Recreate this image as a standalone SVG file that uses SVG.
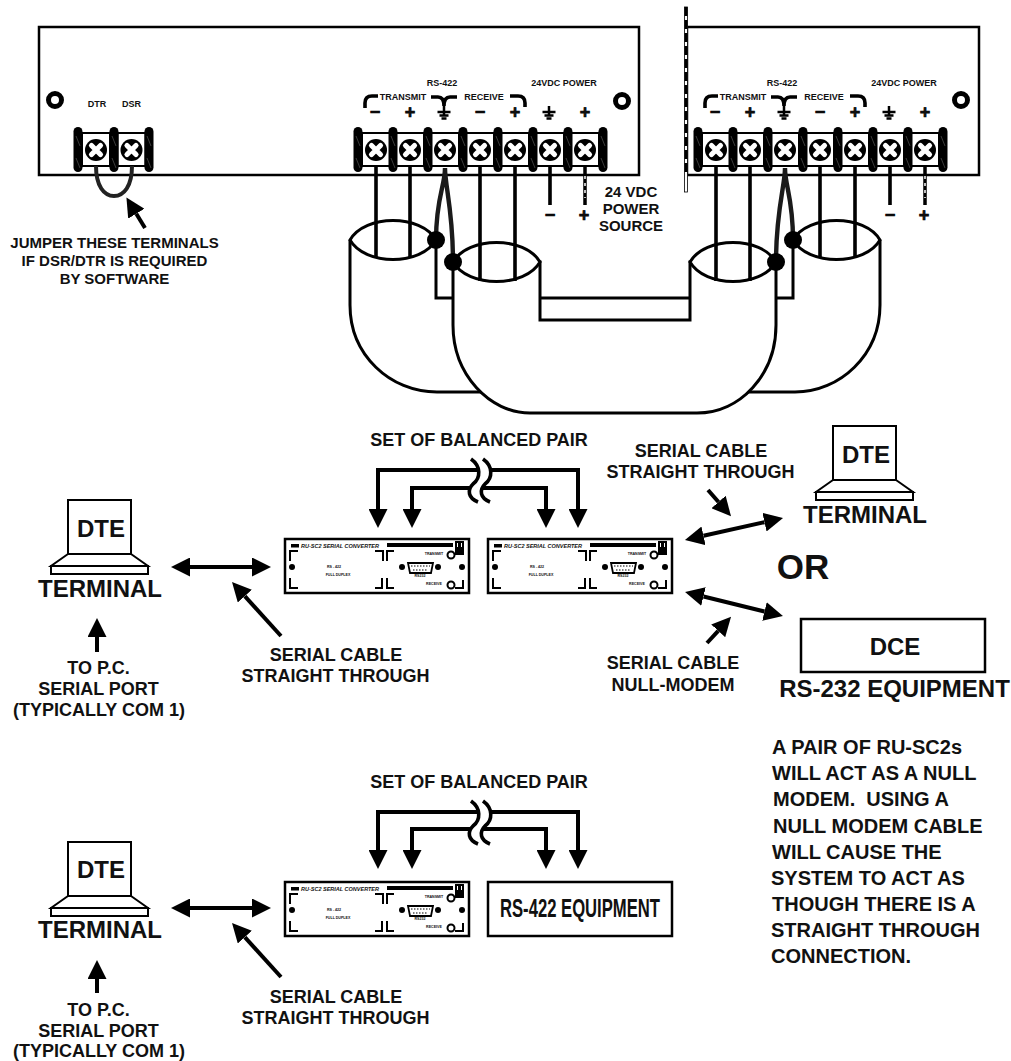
<svg xmlns="http://www.w3.org/2000/svg" xmlns:xlink="http://www.w3.org/1999/xlink" width="1011" height="1061" viewBox="0 0 1011 1061">
<style>
text{font-family:"Liberation Sans",Arial,sans-serif;font-weight:bold;fill:#111;text-anchor:middle;white-space:pre}
.t24{font-size:24px}.t18{font-size:18px}.t15{font-size:15px}.t20{font-size:20px;text-anchor:start}.t9{font-size:9px}.t17{font-size:18px;stroke:#000;stroke-width:.7}
.ln{fill:none;stroke:#000;stroke-width:2.5}
.w{fill:none;stroke:#000;stroke-width:3.600}
.tw{fill:none;stroke:#1a1a1a;stroke-width:4.400}
.ar{fill:none;stroke:#000;stroke-width:4;marker-end:url(#ah)}
.dbl{fill:none;stroke:#000;stroke-width:4;marker-end:url(#ah);marker-start:url(#ah)}
.lens{fill:#fff;stroke:#000;stroke-width:3}
.cab{fill:none;stroke:#000;stroke-width:3}
.tiny{font-size:3.600px}
.brk{fill:none;stroke:#000;stroke-width:2}
</style>
<defs>
<marker id="ah" markerUnits="userSpaceOnUse" markerWidth="19" markerHeight="19" refX="0" refY="9.5" orient="auto-start-reverse"><path d="M0,0L19,9.500L0,19Z" fill="#000"/></marker>
<g id="barrier"><rect x="-4.500" y="127" width="9" height="45" rx="4.500" fill="#000"/><path d="M-2,136L2,146M-2,158L2,168" stroke="#999" stroke-width=".4"/></g>
<g id="screw"><rect x="-14" y="133" width="28" height="33" fill="#fff" stroke="#000" stroke-width="2"/><circle cy="150" r="11" fill="#000"/><path d="M-4.500,145.500L4.500,154.500M4.500,145.500L-4.500,154.500" stroke="#fff" stroke-width="5.200" stroke-linecap="round"/></g>
<g id="hole"><circle r="6.500" fill="#fff" stroke="#000" stroke-width="5"/></g>
<g id="gnd"><path d="M0,-6V3M-6.500,0H6.500M-4.500,3.500H4.500M-2.500,6.500H2.500" stroke="#000" stroke-width="2.500" fill="none"/></g>
<g id="pc"><rect x="68" y="500" width="63" height="54" fill="#fff" stroke="#000" stroke-width="2"/><path d="M68,554L51,566H148L131,554" fill="none" stroke="#000" stroke-width="2"/><rect x="51" y="566" width="97" height="8" fill="#fff" stroke="#000" stroke-width="2"/></g>
<g id="conv">
<rect width="184" height="54" fill="#fff" stroke="#000" stroke-width="2.500"/>
<rect x="6" y="5" width="8" height="3.500" fill="#000"/>
<text x="16" y="8.500" font-size="5.500" font-style="italic" textLength="78" lengthAdjust="spacingAndGlyphs" style="text-anchor:start">RU-SC2 SERIAL CONVERTER</text>
<rect x="102" y="4" width="66" height="4" fill="#000"/>
<rect x="170" y="2" width="9" height="14" fill="#000"/><path d="M172.500,4V8M176.500,4V8" stroke="#fff" stroke-width="1"/>
<path class="brk" d="M5,22V12H13M5,39V49H13M90,12H98V22M102,22V12H109M90,49H97V39M102,39V49H109M170,49H178V41"/>
<circle cx="7" cy="28" r="3"/><circle cx="117" cy="28" r="3"/><circle cx="153" cy="28" r="3"/><circle cx="177" cy="28" r="3"/>
<path d="M123,24H148L146,34H125Z" fill="#fff" stroke="#000" stroke-width="1.800"/>
<path d="M126,27H145M128,31H143" stroke="#000" stroke-width="1.200" stroke-dasharray="1.500 1.500"/>
<text class="tiny" x="135" y="38">RS232</text>
<text class="tiny" x="49" y="29">RS - 422</text>
<text class="tiny" x="53" y="37">FULL DUPLEX</text>
<text class="tiny" x="149" y="16">TRANSMIT</text>
<text class="tiny" x="149" y="46">RECEIVE</text>
<circle cx="166" cy="16" r="3.500" fill="#fff" stroke="#000" stroke-width="2"/>
<circle cx="166" cy="46" r="3.500" fill="#fff" stroke="#000" stroke-width="2"/>
</g>
</defs>
<rect width="1011" height="1061" fill="#fff"/>

<g id="panel-left">
<rect class="ln" x="39" y="27" width="600" height="148" fill="#fff"/>
<use xlink:href="#hole" href="#hole" x="55" y="100"/>
<use href="#hole" x="622" y="101"/>
<text class="t9" x="97" y="107">DTR</text><text class="t9" x="131.500" y="107">DSR</text>
<text class="t9" x="442" y="86">RS-422</text><text class="t9" x="564" y="86">24VDC POWER</text>
<text class="t9" x="403" y="100">TRANSMIT</text><text class="t9" x="484" y="100">RECEIVE</text>
<path class="w" d="M365,108V103Q365,96 372,96H378M431,97H438Q444,97 444,106Q444,97 450,97H457M510,96H518Q525,96 525,103V107"/>
<text class="t17" x="375" y="118">−</text><text class="t17" x="410" y="118">+</text><text class="t17" x="480" y="118">−</text><text class="t17" x="515" y="118">+</text><text class="t17" x="585" y="118">+</text>
<use href="#gnd" x="444" y="112"/><use href="#gnd" x="549" y="112"/>
</g>

<g id="terminal-dtr-dsr">
<use href="#screw" x="96"/><use href="#screw" x="131.500"/>
<use href="#barrier" x="78"/><use href="#barrier" x="114"/><use href="#barrier" x="149"/>
</g>
<g id="terminal-left">
<use href="#screw" x="376"/><use href="#screw" x="410"/><use href="#screw" x="445"/><use href="#screw" x="480"/><use href="#screw" x="515"/><use href="#screw" x="550"/><use href="#screw" x="585"/>
<use href="#barrier" x="358"/><use href="#barrier" x="393"/><use href="#barrier" x="428"/><use href="#barrier" x="463"/><use href="#barrier" x="498"/><use href="#barrier" x="533"/><use href="#barrier" x="568"/><use href="#barrier" x="603"/>
</g>

<g id="panel-right">
<rect class="ln" x="687" y="27" width="292" height="148" fill="#fff"/>
<rect x="684.500" y="7" width="3" height="185" fill="#fff" stroke="#000" stroke-width=".8"/>
<path d="M686,7V175" stroke="#000" stroke-width="3" stroke-dasharray="9 4"/>
<use href="#hole" x="961" y="100"/>
<text class="t9" x="782" y="86">RS-422</text><text class="t9" x="904" y="86">24VDC POWER</text>
<text class="t9" x="743" y="100">TRANSMIT</text><text class="t9" x="824" y="100">RECEIVE</text>
<path class="w" d="M705,108V103Q705,96 712,96H718M771,97H778Q784,97 784,106Q784,97 790,97H797M850,96H858Q865,96 865,103V107"/>
<text class="t17" x="715" y="118">−</text><text class="t17" x="750" y="118">+</text><text class="t17" x="820" y="118">−</text><text class="t17" x="855" y="118">+</text><text class="t17" x="925" y="118">+</text>
<use href="#gnd" x="784" y="112"/><use href="#gnd" x="889" y="112"/>
</g>
<g id="terminal-right">
<use href="#screw" x="716"/><use href="#screw" x="750"/><use href="#screw" x="785"/><use href="#screw" x="820"/><use href="#screw" x="855"/><use href="#screw" x="890"/><use href="#screw" x="925"/>
<use href="#barrier" x="698"/><use href="#barrier" x="733"/><use href="#barrier" x="768"/><use href="#barrier" x="803"/><use href="#barrier" x="838"/><use href="#barrier" x="873"/><use href="#barrier" x="908"/><use href="#barrier" x="943"/>
</g>

<g id="cables">
<path class="cab" d="M350,240V305C350,355 390,392 437,392H490"/>
<path class="cab" d="M880,240V305C880,355 840,392 795,392H740"/>
<path class="cab" d="M436,240V298H453M793,240V298H776"/>
<path d="M453,262V325C453,375 490,413 530,413H697C740,413 776,375 776,325V262H690V320H540V262Z" fill="#fff" stroke="#000" stroke-width="3"/>
<path class="cab" d="M540,298H690"/>
<path class="lens" d="M350,240C365,214 421,214 436,240C421,266 365,266 350,240Z"/>
<path class="lens" d="M453,262C468,236 525,236 540,262C525,288 468,288 453,262Z"/>
<path class="lens" d="M690,262C705,236 761,236 776,262C761,288 705,288 690,262Z"/>
<path class="lens" d="M793,240C808,214 865,214 880,240C865,266 808,266 793,240Z"/>
</g>

<g id="connectors">
<path class="w" d="M376,166V258M410,166V258M480,166V281M515,166V281M716,166V281M750,166V281M820,166V258M855,166V258M550,166V205M890,166V205"/>
<path class="tw" d="M445,168C445,186 436,198 436,240M445,168C445,186 453,210 453,262M785,168C785,186 776,210 776,262M785,168C785,186 793,198 793,240"/>
<path d="M585,166V205M925,166V205" stroke="#000" stroke-width="3.500"/>
<path d="M585,176V198M925,176V198" stroke="#fff" stroke-width="1.500" stroke-dasharray="3 4"/>
<circle cx="436" cy="240" r="9"/><circle cx="453" cy="262" r="9"/><circle cx="776" cy="262" r="9"/><circle cx="793" cy="240" r="9"/>
<path d="M96,166C96,186 104,196 114,196C124,196 132,186 132,166" fill="none" stroke="#222" stroke-width="4"/>

<path class="ar" d="M145,228L136.300,213.700"/>

<path class="dbl" d="M378,509V470H578V509"/>
<path class="dbl" d="M412,509V488H546V509"/>
<path d="M471,459C481,466 481,478 473,484C467,490 468,498 478,502H490C480,498 479,490 485,484C493,478 493,466 483,459Z" fill="#fff"/>
<path class="w" d="M471,459C481,466 481,478 473,484C467,490 468,498 478,502M483,459C493,466 493,478 485,484C479,490 480,498 490,502"/>

<path class="dbl" d="M378,850V812H578V850"/>
<path class="dbl" d="M412,850V829H546V850"/>
<path d="M471,801C481,808 481,820 473,826C467,832 468,840 478,844H490C480,840 479,832 485,826C493,820 493,808 483,801Z" fill="#fff"/>
<path class="w" d="M471,801C481,808 481,820 473,826C467,832 468,840 478,844M483,801C493,808 493,820 485,826C479,832 480,840 490,844"/>

<path class="dbl" d="M190,567H252"/>
<path class="ar" d="M281,636L244.800,596.100"/>
<path class="ar" d="M97,652V637"/>
<path class="dbl" d="M703.500,535.800L764.500,522.200"/>
<path class="dbl" d="M703.500,596.500L764.500,611.500"/>
<path class="ar" d="M708,490L718.500,502"/>
<path class="ar" d="M707,643L718.200,630.800"/>

<path class="dbl" d="M190,908H252"/>
<path class="ar" d="M281,977L244.800,937.100"/>
<path class="ar" d="M97,993V979"/>
</g>

<g id="jumper-label"><text class="t15" x="114.500" y="248">JUMPER THESE TERMINALS</text><text class="t15" x="114.500" y="266">IF DSR/DTR IS REQUIRED</text><text class="t15" x="114.500" y="284">BY SOFTWARE</text></g>
<g id="power-label"><text class="t15" x="631" y="197">24 VDC</text><text class="t15" x="631" y="214">POWER</text><text class="t15" x="631" y="231">SOURCE</text>
<text class="t17" x="550" y="221">−</text><text class="t17" x="584" y="221">+</text>
<text class="t17" x="890" y="221">−</text><text class="t17" x="924" y="221">+</text></g>

<g id="top-diagram">
<text class="t18" x="479" y="446">SET OF BALANCED PAIR</text>
<g id="dte-left"><use href="#pc"/><text class="t24" x="101" y="537">DTE</text><text class="t24" x="100" y="597">TERMINAL</text></g>
<g id="to-pc"><text class="t18" x="98.500" y="674">TO P.C.</text><text class="t18" x="98.500" y="695">SERIAL PORT</text><text class="t18" x="99" y="716">(TYPICALLY COM 1)</text></g>
<text class="t18" x="336" y="661">SERIAL CABLE</text><text class="t18" x="335.500" y="682">STRAIGHT THROUGH</text>
<use id="conv-a" href="#conv" x="285" y="539"/>
<use id="conv-b" href="#conv" x="488" y="539"/>
<text class="t18" x="701" y="457">SERIAL CABLE</text><text class="t18" x="700.500" y="478">STRAIGHT THROUGH</text>
<g id="dte-right"><use href="#pc" x="765" y="-74"/><text class="t24" x="866" y="463">DTE</text><text class="t24" x="865" y="523">TERMINAL</text></g>
<text x="803" y="579" font-size="35">OR</text>
<text class="t18" x="673" y="669">SERIAL CABLE</text><text class="t18" x="673" y="691">NULL-MODEM</text>
<g id="dce"><rect class="ln" x="801" y="619" width="184" height="53" fill="#fff"/><text class="t24" x="895" y="655">DCE</text><text class="t24" x="894.500" y="697">RS-232 EQUIPMENT</text></g>
</g>

<g id="note">
<text class="t20" x="772" y="754">A PAIR OF RU-SC2s</text>
<text class="t20" x="772" y="780">WILL ACT AS A NULL</text>
<text class="t20" x="773" y="806">MODEM.  USING A</text>
<text class="t20" x="773" y="833">NULL MODEM CABLE</text>
<text class="t20" x="772" y="859">WILL CAUSE THE</text>
<text class="t20" x="771" y="885">SYSTEM TO ACT AS</text>
<text class="t20" x="772" y="911">THOUGH THERE IS A</text>
<text class="t20" x="771" y="937">STRAIGHT THROUGH</text>
<text class="t20" x="771" y="963">CONNECTION.</text>
</g>

<g id="bottom-diagram">
<text class="t18" x="479" y="788">SET OF BALANCED PAIR</text>
<g id="dte-bottom"><use href="#pc" y="342"/><text class="t24" x="101" y="878">DTE</text><text class="t24" x="100" y="938">TERMINAL</text></g>
<g id="to-pc-bottom"><text class="t18" x="98.500" y="1016">TO P.C.</text><text class="t18" x="98.500" y="1037">SERIAL PORT</text><text class="t18" x="99" y="1057">(TYPICALLY COM 1)</text></g>
<text class="t18" x="336" y="1003">SERIAL CABLE</text><text class="t18" x="335.500" y="1024">STRAIGHT THROUGH</text>
<use id="conv-c" href="#conv" x="285" y="882"/>
<g id="rs422-eq"><rect class="ln" x="488" y="882" width="184" height="54" fill="#fff"/><text x="580" y="917" font-size="25" textLength="160" lengthAdjust="spacingAndGlyphs" fill="#333">RS-422 EQUIPMENT</text></g>
</g>
</svg>
